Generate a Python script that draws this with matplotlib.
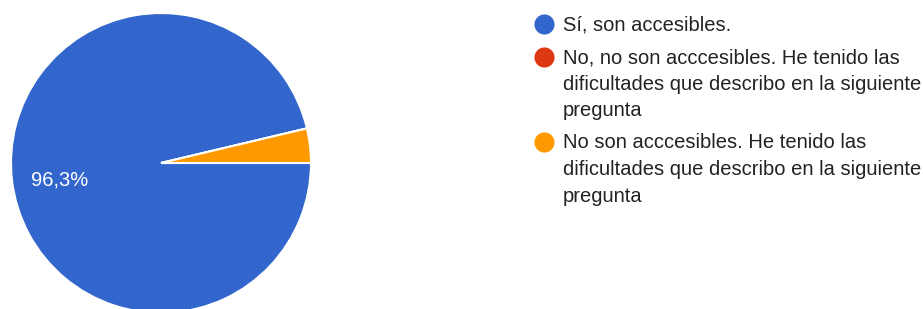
import matplotlib
matplotlib.use('Agg')
import matplotlib.pyplot as plt

# answer counts per option (26 / 0 / 1 of 27 answers)
labels = [
    "Sí, son accesibles.",
    "No, no son acccesibles. He tenido las\ndificultades que describo en la siguiente\npregunta",
    "No son acccesibles. He tenido las\ndificultades que describo en la siguiente\npregunta",
]
counts = [26, 0, 1]
colors = ["#3366cc", "#dc3912", "#ff9900"]

plt.rcParams['font.family'] = ['Liberation Sans', 'DejaVu Sans']

W, H = 923, 309
fig = plt.figure(figsize=(W / 100, H / 100), dpi=100)

# pie: centre (161, 163) px, radius 150 px
r = 150
cx, cy = 161, 163
ax = fig.add_axes([(cx - r) / W, (H - cy - r) / H, 2 * r / W, 2 * r / H])


def pct(p):
    return f"{p:.1f}%".replace('.', ',') if p > 5 else ''


wedges, texts, autotexts = ax.pie(
    counts, colors=colors, startangle=0, counterclock=False,
    autopct=pct, pctdistance=0.68, radius=1,
    wedgeprops=dict(edgecolor='white', linewidth=1.5),
    textprops=dict(color='white', fontsize=14.5))
for t in autotexts:
    t.set_va('baseline')
    x, yy = t.get_position()
    t.set_position((x, yy - 0.07))
ax.set_xlim(-1, 1)
ax.set_ylim(-1, 1)
ax.set_aspect('equal')
ax.axis('off')

# legend drawn by hand so the marker sits on the first line
lax = fig.add_axes([0, 0, 1, 1])
lax.set_xlim(0, W)
lax.set_ylim(H, 0)
lax.axis('off')
base = 30.5
line_h = 26.5
gap = 32.5
for lab, col in zip(labels, colors):
    lax.scatter([544], [base - 6.5], s=210, color=col, linewidths=0)
    lines = lab.split('\n')
    for i, ln in enumerate(lines):
        lax.text(563, base + i * line_h, ln, fontsize=14.5, color='#222222',
                 va='baseline', ha='left')
    base += (len(lines) - 1) * line_h + gap

fig.savefig('out.png', dpi=100)
